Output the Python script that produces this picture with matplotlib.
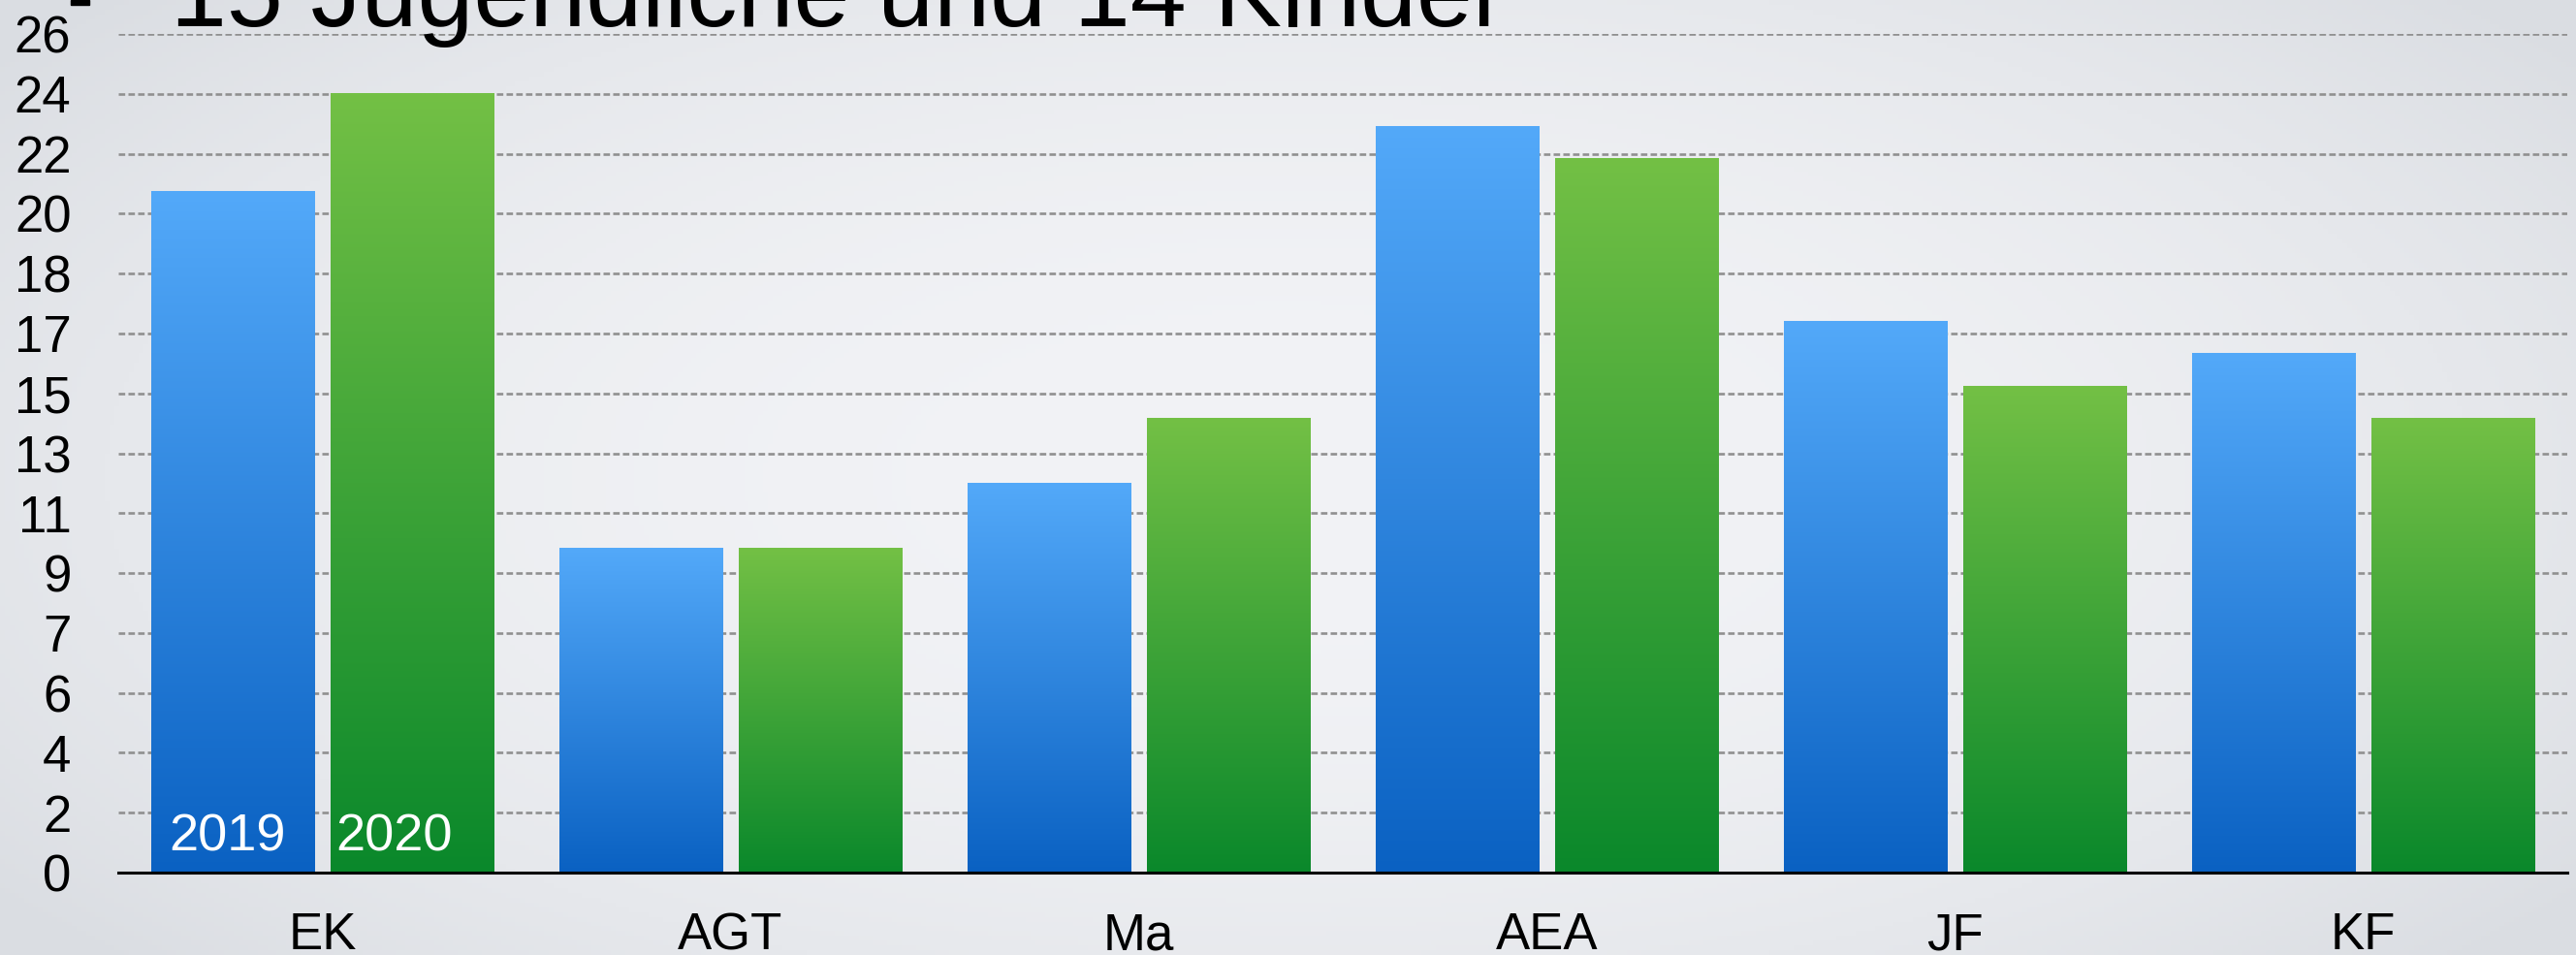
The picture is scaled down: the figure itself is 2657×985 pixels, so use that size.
# grouped bar chart 2019 vs 2020 with gradient bars
import numpy as np
import matplotlib
matplotlib.use('Agg')
from matplotlib import pyplot as plt
from matplotlib.patches import Rectangle
from matplotlib.colors import to_rgb

# data
categories = ['EK', 'AGT', 'Ma', 'AEA', 'JF', 'KF']
values_2019 = [21, 10, 12, 23, 17, 16]
values_2020 = [24, 10, 14, 22, 15, 14]
series_names = ['2019', '2020']
y_tick_labels = ['0', '2', '4', '6', '7', '9', '11', '13', '15', '17', '18', '20', '22', '24', '26']
y_top = 25.85
title = '15 Jugendliche und 14 Kinder'

plt.rcParams['font.family'] = ['Liberation Sans', 'DejaVu Sans']
plt.rcParams['lines.scale_dashes'] = False

W, H = 2657, 985
fig = plt.figure(figsize=(W / 100, H / 100), dpi=100)

# slide background, light grey with darker edges
bg = fig.add_axes([0, 0, 1, 1], zorder=-10)
yy, xx = np.mgrid[-1:1:200j, -1:1:540j]
r = np.clip(np.sqrt((xx / 1.05) ** 2 + (yy / 1.25) ** 2), 0, 1.2) / 1.2
c_in = np.array(to_rgb('#f2f3f6'))
c_out = np.array(to_rgb('#dadde2'))
img = c_in + (c_out - c_in) * (r[..., None] ** 2.2)
bg.imshow(img, aspect='auto', extent=[0, 1, 0, 1])
bg.axis('off')

ax = fig.add_axes([122 / W, 1 - 900 / H, (2648 - 122) / W, (900 - 35) / H])
ax.set_facecolor('none')

x = np.arange(len(categories))
width = 0.40
offs = [-0.22, 0.22]
grads = [('#53a9f9', '#0a61c2'), ('#73c045', '#0a882b')]


def gradient_bars(xpos, vals, top_col, bot_col):
    # draw the bar outlines first, then fill each with its own vertical gradient
    bars = ax.bar(xpos, vals, width=width, color='none', edgecolor='none', zorder=3)
    t = np.array(to_rgb(top_col))
    b = np.array(to_rgb(bot_col))
    g = np.linspace(0, 1, 256)[:, None, None]
    grad = t + (b - t) * g
    for bar in bars:
        x0 = bar.get_x()
        ax.imshow(grad, aspect='auto', extent=[x0, x0 + bar.get_width(), 0, bar.get_height()],
                  origin='upper', zorder=3, interpolation='bilinear')
    return bars


gradient_bars(x + offs[0], values_2019, *grads[0])
gradient_bars(x + offs[1], values_2020, *grads[1])

# series names written into the first pair of bars
ax.text(-0.232, 0.66, series_names[0], color='white', fontsize=39, ha='center', va='baseline', zorder=5)
ax.text(0.175, 0.66, series_names[1], color='white', fontsize=39, ha='center', va='baseline', zorder=5)

ax.set_xlim(-0.5, len(categories) - 0.5)
ax.set_ylim(0, y_top)
ax.set_yticks(np.linspace(0, y_top, len(y_tick_labels)))
ax.set_yticklabels(y_tick_labels)
ax.set_xticks(x)
ax.set_xticklabels(categories)
ax.tick_params(axis='both', length=0, labelsize=38, colors='black')
ax.tick_params(axis='y', pad=35)
ax.tick_params(axis='x', pad=29)

ax.set_axisbelow(True)
ax.yaxis.grid(True, color='#909090', linewidth=1.9, linestyle=(0, (4.8, 2.4)), zorder=0)
for s in ['top', 'right', 'left']:
    ax.spines[s].set_visible(False)
ax.spines['bottom'].set_linewidth(2.2)
ax.spines['bottom'].set_color('black')
ax.spines['bottom'].set_zorder(4)

# slide title, cut off at the top edge
fig.text(176 / W, 1 - 27 / H, title, fontsize=75, color='black', ha='left', va='baseline')
fig.patches.append(Rectangle((73 / W, 1 - 5 / H), 19 / W, 5 / H, transform=fig.transFigure,
                             color='black', zorder=5))

plt.savefig('out.png', dpi=100)
